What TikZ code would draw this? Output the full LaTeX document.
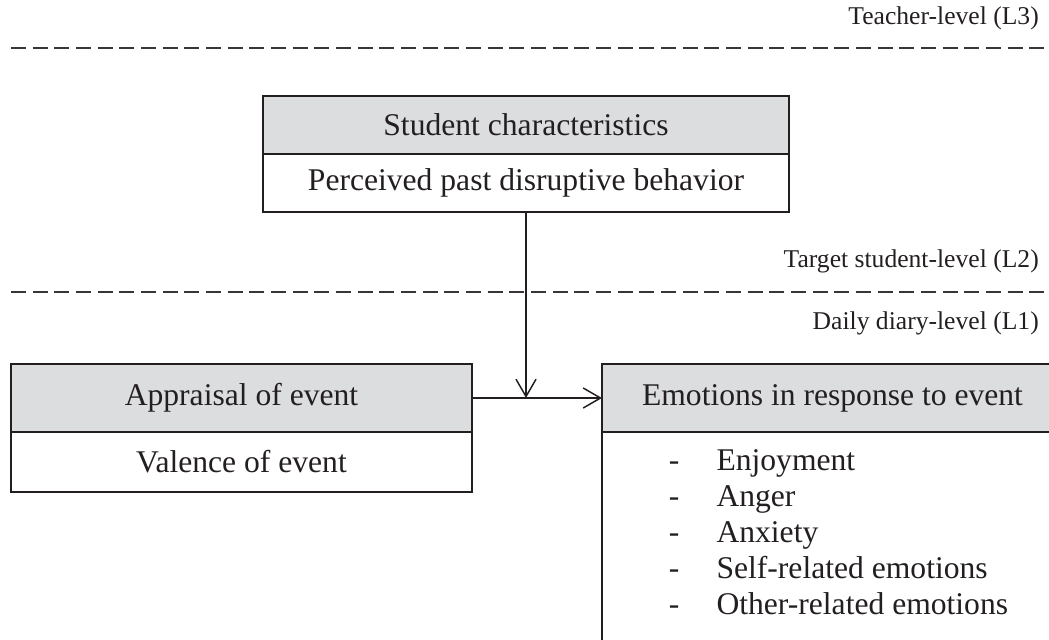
\documentclass[tikz,border=0pt]{standalone}
\usepackage{fontspec}
\setmainfont{Liberation Serif}
\usetikzlibrary{positioning}
\usetikzlibrary{arrows.meta}

\definecolor{boxgray}{HTML}{DCDDDF}
\definecolor{inkgray}{HTML}{231F20}

\newcommand{\emoitem}[1]{\makebox[35.7pt][l]{-}#1}

\begin{document}
\begin{tikzpicture}[x=0.75pt, y=-0.75pt,
    head/.style={draw=inkgray, fill=boxgray, line width=1.1pt, outer sep=0pt, inner sep=0pt,
        minimum height=#1, text=inkgray, font=\fontsize{23.7}{27}\selectfont},
    body/.style={head=#1, fill=white},
    list/.style={inner sep=0pt, align=left, text=inkgray, font=\fontsize{23.7}{27}\selectfont},
    lvl/.style={inner sep=0pt, text=inkgray, font=\fontsize{19.2}{22}\selectfont},
    sep/.style={draw=inkgray!90, line width=1.5pt, dash pattern=on 11.25pt off 5pt},
    conn/.style={draw=inkgray, line width=1.1pt, -{Straight Barb[length=13pt,width=15pt]}}]
        \useasboundingbox (0,0) rectangle (1049,639);
        \clip (0,0) rectangle (1049,639);

        % levels
        \draw[sep] (11,48) -- (1049,48);
        \draw[sep] (11,292) -- (1049,292);
        \node[lvl, anchor=base east] (l3) at (1039,24) {Teacher-level (L3)};
        \node[lvl, anchor=base east] (l2) at (1039,267) {Target student-level (L2)};
        \node[lvl, anchor=base east] (l1) at (1039,329) {Daily diary-level (L1)};

        \node[head=43.5pt, minimum width=394.5pt, anchor=north west] (stuhead) at (263,96) {Student characteristics};
        \node[body=43.5pt, minimum width=394.5pt, below=0pt of stuhead] (stubody) {Perceived past disruptive behavior};

        \node[head=51pt, minimum width=345.75pt, anchor=north west] (apphead) at (11,364) {Appraisal of event};
        \node[body=45pt, minimum width=345.75pt, below=0pt of apphead] (appbody) {Valence of event};

        \node[head=51pt, minimum width=345.75pt, anchor=north west] (emohead) at (602,364) {Emotions in response to event};
        \node[body=180pt, minimum width=345.75pt, below=0pt of emohead] (emobody) {};
        \node[list, below right=13.3pt and 50pt of emobody.north west] (emolist)
            {\emoitem{Enjoyment}\\ \emoitem{Anger}\\ \emoitem{Anxiety}\\
             \emoitem{Self-related emotions}\\ \emoitem{Other-related emotions}};

        \draw[conn] (apphead.east) -- (emohead.west);
        \draw[conn] (stubody.south) -- (stubody.south |- apphead.east);
\end{tikzpicture}
\end{document}
